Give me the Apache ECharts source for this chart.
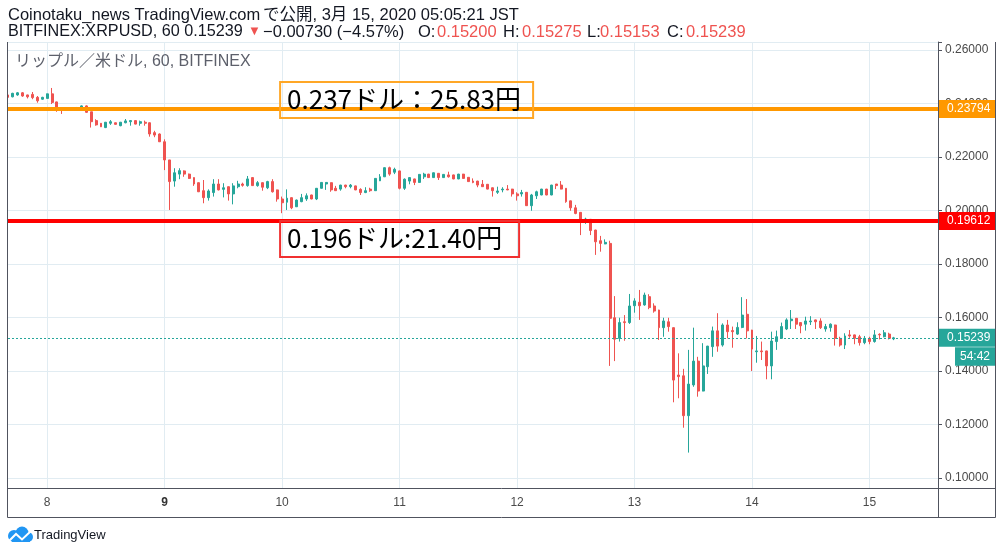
<!DOCTYPE html>
<html><head><meta charset="utf-8">
<script src="https://cdn.jsdelivr.net/npm/echarts@6/dist/echarts.min.js"></script>
<style>html,body{margin:0;padding:0;background:#fff}#c{width:1002px;height:553px}</style>
</head><body><div id="c"></div>
<script>
// hourly slots: first slot = 7th 16:00, last slot = 15th 14:00
const startDay = 7, startHour = 16, slotCount = 191;
const open = [
.2432,.2425,.2432,.2440,.2432,.2434,.2423,.2416,.2419,.2436,.2406,.2379,.2376,.2384,.2374,.2378,.2391,.2369,.2336,.2326,
.2310,.2326,.2328,.2317,.2328,.2332,.2336,.2326,.2330,.2328,.2291,.2286,.2257,.2189,.2110,.2136,.2148,.2136,.2123,.2104,
.2074,.2048,.2067,.2099,.2079,.2089,.2062,.2089,.2099,.2093,.2123,.2093,.2104,.2085,.2108,.2077,.2043,.2031,.2048,.2014,
.2033,.2043,.2058,.2043,.2083,.2099,.2104,.2083,.2080,.2095,.2089,.2092,.2079,.2067,.2080,.2074,.2111,.2126,.2160,.2143,
.2148,.2083,.2110,.2118,.2105,.2126,.2136,.2123,.2139,.2123,.2133,.2133,.2118,.2136,.2124,.2110,.2110,.2098,.2098,.2085,
.2068,.2077,.2080,.2080,.2062,.2062,.2068,.2018,.2055,.2058,.2080,.2058,.2099,.2095,.2083,.2036,.2010,.1993,.1964,.1967,
.1927,.1887,.1875,.1877,.1599,.1522,.1584,.1581,.1644,.1657,.1647,.1678,.1643,.1628,.1562,.1584,.1562,.1385,.1382,.1233,
.1348,.1437,.1325,.1416,.1491,.1550,.1497,.1572,.1551,.1538,.1563,.1612,.1553,.1472,.1475,.1475,.1419,.1510,.1522,.1557,
.1588,.1597,.1581,.1575,.1584,.1591,.1587,.1557,.1562,.1572,.1522,.1497,.1535,.1535,.1528,.1506,.1522,.1510,.1537,.1528,
.1538,.1520];
const close = [
.2423,.2438,.2440,.2428,.2425,.2422,.2410,.2423,.2436,.2404,.2384,.2374,.2379,.2374,.2382,.2391,.2367,.2332,.2320,.2313,
.2330,.2332,.2322,.2330,.2335,.2336,.2323,.2332,.2326,.2286,.2282,.2257,.2189,.2108,.2141,.2149,.2136,.2120,.2099,.2070,
.2048,.2073,.2099,.2077,.2085,.2062,.2092,.2099,.2094,.2118,.2093,.2104,.2087,.2108,.2070,.2043,.2029,.2046,.2010,.2039,
.2048,.2055,.2043,.2083,.2105,.2105,.2077,.2074,.2095,.2089,.2095,.2077,.2067,.2074,.2074,.2120,.2126,.2160,.2136,.2154,
.2083,.2117,.2123,.2105,.2135,.2136,.2123,.2141,.2123,.2135,.2126,.2118,.2136,.2120,.2108,.2105,.2095,.2089,.2080,.2074,
.2073,.2080,.2077,.2062,.2055,.2067,.2018,.2058,.2070,.2080,.2058,.2095,.2093,.2080,.2033,.2010,.1989,.1964,.1968,.1925,
.1883,.1877,.1881,.1597,.1519,.1581,.1581,.1643,.1662,.1644,.1684,.1637,.1624,.1562,.1587,.1566,.1366,.1379,.1233,.1351,
.1437,.1325,.1419,.1493,.1550,.1493,.1572,.1547,.1547,.1563,.1609,.1550,.1482,.1475,.1472,.1419,.1512,.1528,.1566,.1591,
.1594,.1575,.1569,.1587,.1587,.1584,.1562,.1566,.1575,.1522,.1497,.1531,.1531,.1522,.1506,.1522,.1510,.1535,.1535,.1543,
.1522,.15239];
const low = [
.2416,.2423,.2429,.2425,.2419,.2416,.2403,.2414,.2419,.2398,.2369,.2361,.2372,.2372,.2372,.2376,.2365,.2310,.2317,.2312,
.2308,.2320,.2321,.2315,.2326,.2317,.2322,.2317,.2317,.2276,.2274,.2256,.2151,.2002,.2089,.2117,.2126,.2118,.2092,.2069,
.2027,.2037,.2052,.2075,.2049,.2037,.2023,.2083,.2089,.2089,.2092,.2089,.2074,.2080,.2067,.2033,.1990,.2002,.2005,.2013,
.2031,.2036,.2042,.2039,.2082,.2077,.2070,.2073,.2074,.2083,.2083,.2076,.2058,.2065,.2070,.2073,.2110,.2125,.2130,.2136,
.2079,.2077,.2098,.2095,.2104,.2118,.2122,.2122,.2114,.2122,.2123,.2117,.2117,.2119,.2107,.2102,.2087,.2088,.2079,.2052,
.2062,.2068,.2076,.2052,.2037,.2052,.2017,.1999,.2043,.2057,.2057,.2057,.2080,.2079,.2029,.1999,.1986,.1908,.1950,.1908,
.1834,.1846,.1874,.1419,.1437,.1510,.1513,.1576,.1618,.1591,.1644,.1631,.1618,.1516,.1528,.1547,.1283,.1298,.1188,.1095,
.1341,.1304,.1324,.1389,.1453,.1472,.1491,.1522,.1487,.1535,.1560,.1522,.1400,.1431,.1441,.1369,.1369,.1479,.1520,.1553,
.1557,.1557,.1541,.1551,.1572,.1557,.1557,.1547,.1547,.1495,.1491,.1482,.1524,.1500,.1495,.1500,.1500,.1506,.1518,.1526,
.1518,.15153];
const high = [
.2434,.2440,.2443,.2443,.2433,.2443,.2428,.2425,.2437,.2458,.2407,.2381,.2383,.2385,.2387,.2393,.2393,.2369,.2341,.2327,
.2331,.2338,.2329,.2331,.2342,.2338,.2337,.2336,.2336,.2329,.2298,.2288,.2266,.2189,.2158,.2158,.2150,.2138,.2124,.2105,
.2114,.2079,.2117,.2117,.2102,.2090,.2102,.2111,.2104,.2129,.2124,.2110,.2105,.2111,.2117,.2078,.2052,.2079,.2049,.2041,
.2062,.2064,.2059,.2084,.2106,.2106,.2105,.2092,.2096,.2096,.2099,.2093,.2083,.2087,.2085,.2121,.2136,.2161,.2164,.2160,
.2149,.2120,.2124,.2119,.2136,.2141,.2137,.2142,.2140,.2136,.2145,.2134,.2137,.2137,.2125,.2120,.2111,.2114,.2099,.2086,
.2089,.2087,.2095,.2081,.2068,.2077,.2069,.2062,.2074,.2081,.2081,.2096,.2099,.2110,.2084,.2037,.2021,.1994,.1973,.1968,
.1928,.1905,.1892,.1887,.1680,.1599,.1609,.1688,.1672,.1703,.1693,.1687,.1653,.1629,.1599,.1599,.1563,.1466,.1408,.1479,
.1562,.1453,.1504,.1494,.1566,.1616,.1578,.1591,.1566,.1582,.1676,.1669,.1554,.1531,.1510,.1476,.1547,.1551,.1581,.1597,
.1628,.1598,.1582,.1603,.1605,.1592,.1597,.1576,.1578,.1573,.1528,.1541,.1553,.1536,.1535,.1531,.1528,.1553,.1541,.1553,
.1543,.15275];
const levels = { orange: 0.23794, red: 0.19612, last: 0.15239 };
const annotations = { orange: '0.237ドル：25.83円', red: '0.196ドル:21.40円' };
const countdown = '54:42';
const yTicks = [0.10, 0.12, 0.14, 0.16, 0.18, 0.20, 0.22, 0.24, 0.26];
const yRange = [0.09626, 0.26299];

const slots = [];
for (let i = 0; i < slotCount; i++) {
  const h = startHour + i;
  const d = startDay + Math.floor(h / 24);
  const hh = h % 24;
  slots.push(d + ' ' + (hh < 10 ? '0' : '') + hh + ':00');
}
const candleData = open.map((o, i) => [o, close[i], low[i], high[i]]);
const isMidnight = (i, v) => String(v).endsWith(' 00:00');
const FONT = '"Liberation Sans","Noto Sans CJK JP",sans-serif';
const FRAME = '#50535e';

const chart = echarts.init(document.getElementById('c'));
chart.setOption({
  animation: false,
  backgroundColor: '#ffffff',
  textStyle: { fontFamily: FONT },
  grid: { left: 8, right: 64, top: 42, bottom: 65 },
  xAxis: {
    type: 'category', data: slots, boundaryGap: false,
    axisLine: { show: false }, axisTick: { show: false },
    axisLabel: {
      interval: isMidnight, margin: 9, color: '#4a4a4a', fontSize: 12, fontFamily: FONT,
      formatter: v => { const d = v.split(' ')[0]; return d === '9' ? '{b|9}' : d; },
      rich: { b: { fontWeight: 'bold', color: '#333', fontSize: 12, fontFamily: FONT } }
    },
    splitLine: { show: true, interval: isMidnight, lineStyle: { color: '#e1ecf2', width: 1 } }
  },
  yAxis: {
    type: 'value', position: 'right', min: yRange[0], max: yRange[1],
    minInterval: 0.02, maxInterval: 0.02,
    axisLine: { show: true, lineStyle: { color: FRAME } },
    axisTick: { show: true, length: 4, lineStyle: { color: FRAME } },
    axisLabel: {
      margin: 7, color: '#4a4a4a', fontSize: 12, fontFamily: FONT,
      formatter: v => yTicks.some(t => Math.abs(t - v) < 1e-7) ? v.toFixed(5) : ''
    },
    splitLine: { lineStyle: { color: '#e1ecf2' } }
  },
  series: [{
    type: 'candlestick', data: candleData, barWidth: 2.4,
    itemStyle: { color: '#26a69a', color0: '#ef5350', borderColor: '#26a69a', borderColor0: '#ef5350', borderWidth: 1 },
    markLine: {
      silent: true, symbol: ['none', 'none'], animation: false, precision: 5,
      label: { position: 'end', distance: 0, color: '#fff', fontSize: 12, fontFamily: FONT,
               padding: [3, 0, 3, 9], width: 48, lineHeight: 12,
               formatter: p => Number(p.value).toFixed(5) },
      data: [
        { yAxis: levels.last, lineStyle: { color: '#26a69a', width: 1, type: [2, 2] },
          label: { backgroundColor: '#26a69a' } },
        { yAxis: levels.red, lineStyle: { color: '#ff0000', width: 4, type: 'solid' },
          label: { backgroundColor: '#ff0000' } },
        { yAxis: levels.orange, lineStyle: { color: '#ff9800', width: 4, type: 'solid' },
          label: { backgroundColor: '#ff9800' } }
      ]
    }
  }]
});

const xAnchor = chart.convertToPixel({ xAxisIndex: 0 }, '10 00:00');
const yO = chart.convertToPixel({ yAxisIndex: 0 }, levels.orange);
const yR = chart.convertToPixel({ yAxisIndex: 0 }, levels.red);
const yL = chart.convertToPixel({ yAxisIndex: 0 }, levels.last);

const line = (x1, y1, x2, y2, c) => ({ type: 'line', silent: true, z: 50,
  shape: { x1, y1, x2, y2 }, style: { stroke: c || FRAME, lineWidth: 1 } });
const hText = (x, text, color, size, y) => ({ type: 'text', x, y: y || 32, silent: true,
  style: { text, fill: color, font: (size || 16.5) + 'px ' + FONT, verticalAlign: 'middle' } });
const BLK = '#131722', RED = '#ef5350';

chart.setOption({
  graphic: [
    // header
    hText(8, 'Coinotaku_news TradingView.com', BLK, 16.5, 15),
    hText(263, 'で公開, 3月 15, 2020 05:05:21 JST', BLK, 16.5, 15),
    hText(8, 'BITFINEX:XRPUSD, 60 0.15239', BLK, 16.2),
    hText(248, '▼', RED, 13, 31),
    hText(263, '−0.00730 (−4.57%)', BLK),
    hText(418, 'O:', BLK), hText(437, '0.15200', RED),
    hText(503, 'H:', BLK), hText(522, '0.15275', RED),
    hText(587, 'L:', BLK), hText(600, '0.15153', RED),
    hText(667, 'C:', BLK), hText(686, '0.15239', RED),
    // symbol label
    { type: 'text', x: 15, y: 62, silent: true, z: 40,
      style: { text: 'リップル／米ドル, 60, BITFINEX', fill: '#5d606b', font: '16px ' + FONT, verticalAlign: 'middle' } },
    // frame
    line(7.5, 42, 7.5, 517.5),
    line(995.5, 42, 995.5, 517.5),
    line(7.5, 517.5, 995.5, 517.5),
    line(7.5, 488.5, 995.5, 488.5),
    line(938.5, 42, 938.5, 517.5),
    // annotation boxes
    { type: 'rect', silent: true, z: 45,
      shape: { x: xAnchor - 2, y: yO - 27, width: 253, height: 36 },
      style: { fill: 'none', stroke: '#ffa726', lineWidth: 2 } },
    { type: 'text', silent: true, z: 46, x: xAnchor + 5, y: yO - 9.5,
      style: { text: annotations.orange, fill: '#000', font: '26px "Noto Sans CJK JP"', verticalAlign: 'middle' } },
    { type: 'rect', silent: true, z: 45,
      shape: { x: xAnchor - 2, y: yR, width: 239, height: 36 },
      style: { fill: 'none', stroke: '#f03030', lineWidth: 2 } },
    { type: 'text', silent: true, z: 46, x: xAnchor + 5, y: yR + 17.5,
      style: { text: annotations.red, fill: '#000', font: '26px "Noto Sans CJK JP"', verticalAlign: 'middle' } },
    // countdown
    { type: 'rect', silent: true, z: 45,
      shape: { x: 955, y: yL + 9.5, width: 40, height: 18.5 },
      style: { fill: '#26a69a' } },
    { type: 'text', silent: true, z: 46, x: 975, y: yL + 19,
      style: { text: countdown, fill: '#fff', font: '12px ' + FONT, align: 'center', verticalAlign: 'middle' } },
    // TradingView logo
    { type: 'group', silent: true, x: 7, y: 527, children: [
      { type: 'circle', shape: { cx: 7, cy: 9, r: 6 }, style: { fill: '#2196f3' } },
      { type: 'circle', shape: { cx: 15, cy: 6, r: 6.5 }, style: { fill: '#2196f3' } },
      { type: 'circle', shape: { cx: 21, cy: 10, r: 5 }, style: { fill: '#2196f3' } },
      { type: 'rect', shape: { x: 5, y: 9, width: 18, height: 6 }, style: { fill: '#2196f3' } },
      { type: 'polyline', shape: { points: [[2, 14], [9, 7], [15, 12.5], [24, 4]] },
        style: { stroke: '#fff', lineWidth: 2, fill: 'none' } }
    ] },
    { type: 'text', x: 34, y: 535, silent: true,
      style: { text: 'TradingView', fill: '#131722', font: '13px ' + FONT, verticalAlign: 'middle' } }
  ]
});
</script>
</body></html>
